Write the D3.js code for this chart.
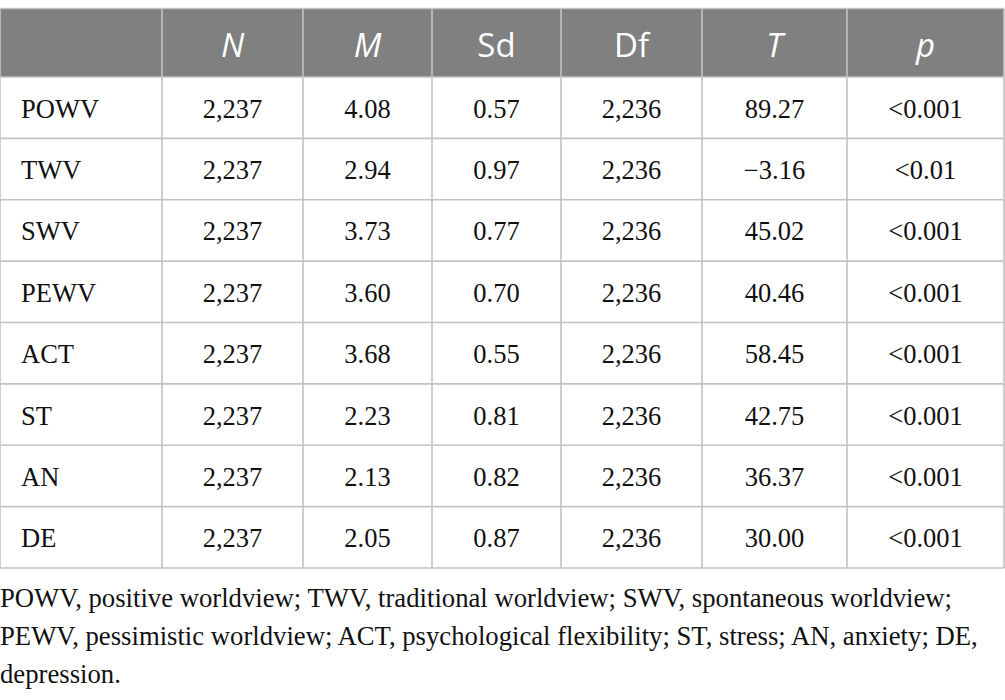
<!DOCTYPE html>
<html>
<head>
<meta charset="utf-8">
<script src="https://cdn.jsdelivr.net/npm/d3@7"></script>
<style>
  html, body { margin: 0; padding: 0; background: #fff; }
  svg { display: block; }
</style>
</head>
<body>
<div id="table"></div>
<script>
// table content
const headers = ["", "N", "M", "Sd", "Df", "T", "p"];
const italicHeaders = ["N", "M", "T", "p"];
const variables = ["POWV", "TWV", "SWV", "PEWV", "ACT", "ST", "AN", "DE"];
const nValues = ["2,237", "2,237", "2,237", "2,237", "2,237", "2,237", "2,237", "2,237"];
const means = ["4.08", "2.94", "3.73", "3.60", "3.68", "2.23", "2.13", "2.05"];
const sds = ["0.57", "0.97", "0.77", "0.70", "0.55", "0.81", "0.82", "0.87"];
const dfs = ["2,236", "2,236", "2,236", "2,236", "2,236", "2,236", "2,236", "2,236"];
const tValues = ["89.27", "\u22123.16", "45.02", "40.46", "58.45", "42.75", "36.37", "30.00"];
const pValues = ["<0.001", "<0.01", "<0.001", "<0.001", "<0.001", "<0.001", "<0.001", "<0.001"];
const footnote = [
  "POWV, positive worldview; TWV, traditional worldview; SWV, spontaneous worldview;",
  "PEWV, pessimistic worldview; ACT, psychological flexibility; ST, stress; AN, anxiety; DE,",
  "depression."
];

const width = 1005;
const height = 700;

// column edges
const colEdges = [0, 162, 303, 432, 561, 702, 847, 1004];
const tableTop = 8.5;
const headerBottom = 77;
const tableBottom = 568;

const rows = variables.map((v, i) => [v, nValues[i], means[i], sds[i], dfs[i], tValues[i], pValues[i]]);

const svg = d3.select("#table")
  .append("svg")
  .attr("width", width)
  .attr("height", height);

const y = d3.scaleBand()
  .domain(variables)
  .range([headerBottom, tableBottom]);

const lineColor = "#c2c2c2";
const textColor = "#111";

// header band
svg.append("rect")
  .attr("x", colEdges[0])
  .attr("y", tableTop)
  .attr("width", colEdges[colEdges.length - 1] - colEdges[0])
  .attr("height", headerBottom - tableTop)
  .attr("fill", "#808080");

svg.append("g")
  .selectAll("text")
  .data(headers)
  .join("text")
  .attr("x", (d, i) => (colEdges[i] + colEdges[i + 1]) / 2)
  .attr("y", 57)
  .attr("text-anchor", "middle")
  .attr("fill", "#fff")
  .attr("font-family", "'Open Sans', sans-serif")
  .attr("font-size", 33)
  .attr("font-style", d => italicHeaders.includes(d) ? "italic" : "normal")
  .text(d => d);

// body cells
const rowG = svg.append("g")
  .selectAll("g")
  .data(rows)
  .join("g")
  .attr("transform", d => `translate(0,${y(d[0]) + y.bandwidth() / 2 + 10})`);

rowG.selectAll("text")
  .data(d => d)
  .join("text")
  .attr("x", (d, i) => i === 0 ? colEdges[0] + 21 : (colEdges[i] + colEdges[i + 1]) / 2)
  .attr("text-anchor", (d, i) => i === 0 ? "start" : "middle")
  .attr("fill", textColor)
  .attr("font-family", "'Liberation Serif', serif")
  .attr("font-size", 26.5)
  .text(d => d);

// grid lines
const grid = svg.append("g")
  .attr("stroke", lineColor)
  .attr("stroke-width", 1.6)
  .attr("fill", "none");

grid.selectAll("line.h")
  .data([tableTop, headerBottom, ...variables.map(v => y(v) + y.bandwidth())])
  .join("line")
  .attr("class", "h")
  .attr("x1", colEdges[0])
  .attr("x2", colEdges[colEdges.length - 1])
  .attr("y1", d => d)
  .attr("y2", d => d);

grid.selectAll("line.v")
  .data(colEdges)
  .join("line")
  .attr("class", "v")
  .attr("x1", d => d)
  .attr("x2", d => d)
  .attr("y1", tableTop)
  .attr("y2", tableBottom);

// footnote
svg.append("g")
  .selectAll("text")
  .data(footnote)
  .join("text")
  .attr("x", 0)
  .attr("y", (d, i) => 607 + i * 38)
  .attr("fill", textColor)
  .attr("font-family", "'Liberation Serif', serif")
  .attr("font-size", 26.7)
  .text(d => d);
</script>
</body>
</html>
